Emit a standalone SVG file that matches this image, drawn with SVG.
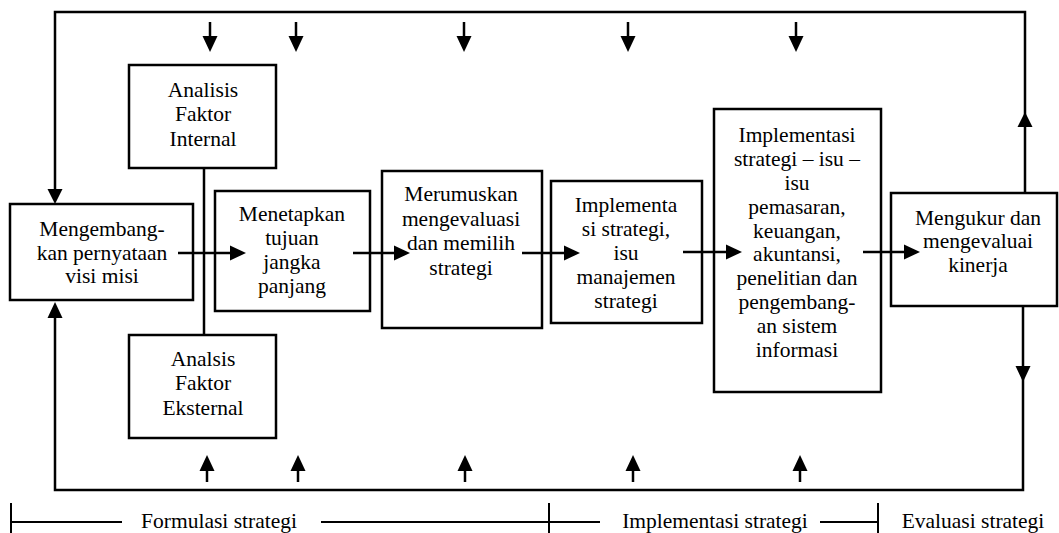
<svg xmlns="http://www.w3.org/2000/svg" width="1059" height="533" viewBox="0 0 1059 533">
<style>
  .box { fill: #fff; stroke: #000; stroke-width: 2.5; }
  .ln { fill: none; stroke: #000; stroke-width: 2.5; }
  .br { fill: none; stroke: #000; stroke-width: 2; }
  .hd { fill: #000; stroke: none; }
  text { font-family: "Liberation Serif", "Times New Roman", serif; font-size: 21.5px; fill: #000; text-anchor: middle; }
</style>
<rect width="1059" height="533" fill="#fff"/>

<g id="n-visi">
  <rect class="box" x="10" y="204" width="183" height="96"/>
  <text x="102" y="236">Mengembang-</text>
  <text x="102" y="260">kan pernyataan</text>
  <text x="102" y="283">visi misi</text>
</g>
<g id="n-internal">
  <rect class="box" x="129" y="65" width="147" height="103"/>
  <text x="203" y="97">Analisis</text>
  <text x="203" y="121">Faktor</text>
  <text x="203" y="146">Internal</text>
</g>
<g id="n-eksternal">
  <rect class="box" x="129" y="335" width="147" height="103"/>
  <text x="203" y="366">Analsis</text>
  <text x="203" y="390">Faktor</text>
  <text x="203" y="415">Eksternal</text>
</g>
<g id="n-tujuan">
  <rect class="box" x="215" y="191" width="155" height="120"/>
  <text x="292" y="221">Menetapkan</text>
  <text x="292" y="245">tujuan</text>
  <text x="292" y="269">jangka</text>
  <text x="292" y="293">panjang</text>
</g>
<g id="n-merumuskan">
  <rect class="box" x="382" y="171" width="160" height="157"/>
  <text x="461" y="201">Merumuskan</text>
  <text x="461" y="226">mengevaluasi</text>
  <text x="461" y="250">dan memilih</text>
  <text x="461" y="275">strategi</text>
</g>
<g id="n-implementa">
  <rect class="box" x="551" y="181" width="151" height="142"/>
  <text x="626" y="212">Implementa</text>
  <text x="626" y="236">si strategi,</text>
  <text x="626" y="260">isu</text>
  <text x="626" y="284">manajemen</text>
  <text x="626" y="308">strategi</text>
</g>
<g id="n-implementasi">
  <rect class="box" x="714" y="109" width="167" height="283"/>
  <text x="797" y="142">Implementasi</text>
  <text x="797" y="166">strategi – isu –</text>
  <text x="797" y="190">isu</text>
  <text x="797" y="214">pemasaran,</text>
  <text x="797" y="238">keuangan,</text>
  <text x="797" y="261">akuntansi,</text>
  <text x="797" y="285">penelitian dan</text>
  <text x="797" y="309">pengembang-</text>
  <text x="797" y="333">an sistem</text>
  <text x="797" y="357">informasi</text>
</g>
<g id="n-mengukur">
  <rect class="box" x="891" y="193" width="166" height="113"/>
  <text x="978" y="225">Mengukur dan</text>
  <text x="978" y="248">mengevaluai</text>
  <text x="978" y="272">kinerja</text>
</g>

<g id="connectors">
  <!-- outer feedback loop -->
  <polyline class="ln" points="55,189 55,12 1025,12 1025,193"/>
  <polygon class="hd" points="47.5,189 62.5,189 55,204"/>
  <polygon class="hd" points="1017.5,127 1032.5,127 1025,112"/>
  <polyline class="ln" points="1023,306 1023,490 55,490 55,318"/>
  <polygon class="hd" points="47.5,318 62.5,318 55,302"/>
  <polygon class="hd" points="1015.5,366 1030.5,366 1023,382"/>
  <!-- link internal-external -->
  <line class="ln" x1="204" y1="168" x2="204" y2="335"/>
  <!-- horizontal flow arrows -->
  <line class="ln" x1="178" y1="253" x2="232" y2="253"/>
  <polygon class="hd" points="230,245.5 230,260.5 246,253"/>
  <line class="ln" x1="353" y1="253" x2="396" y2="253"/>
  <polygon class="hd" points="394,245.5 394,260.5 410,253"/>
  <line class="ln" x1="522" y1="253" x2="566" y2="253"/>
  <polygon class="hd" points="564,245.5 564,260.5 580,253"/>
  <line class="ln" x1="683" y1="252" x2="728" y2="252"/>
  <polygon class="hd" points="726,244.5 726,259.5 742,252"/>
  <line class="ln" x1="863" y1="252" x2="906" y2="252"/>
  <polygon class="hd" points="904,244.5 904,259.5 920,252"/>
  <!-- top down arrows -->
  <line class="ln" x1="210" y1="22" x2="210" y2="38"/><polygon class="hd" points="202.5,36 217.5,36 210,52"/>
  <line class="ln" x1="296" y1="22" x2="296" y2="38"/><polygon class="hd" points="288.5,36 303.5,36 296,52"/>
  <line class="ln" x1="464" y1="22" x2="464" y2="38"/><polygon class="hd" points="456.5,36 471.5,36 464,52"/>
  <line class="ln" x1="628" y1="22" x2="628" y2="38"/><polygon class="hd" points="620.5,36 635.5,36 628,52"/>
  <line class="ln" x1="796" y1="22" x2="796" y2="38"/><polygon class="hd" points="788.5,36 803.5,36 796,52"/>
  <!-- bottom up arrows -->
  <line class="ln" x1="207" y1="482" x2="207" y2="469"/><polygon class="hd" points="199.5,471 214.5,471 207,455"/>
  <line class="ln" x1="298" y1="482" x2="298" y2="469"/><polygon class="hd" points="290.5,471 305.5,471 298,455"/>
  <line class="ln" x1="465" y1="482" x2="465" y2="469"/><polygon class="hd" points="457.5,471 472.5,471 465,455"/>
  <line class="ln" x1="633" y1="482" x2="633" y2="469"/><polygon class="hd" points="625.5,471 640.5,471 633,455"/>
  <line class="ln" x1="800" y1="482" x2="800" y2="469"/><polygon class="hd" points="792.5,471 807.5,471 800,455"/>
</g>

<g id="phases">
  <line class="br" x1="11" y1="503" x2="11" y2="533"/>
  <line class="br" x1="11" y1="522" x2="122" y2="522"/>
  <text x="219" y="528">Formulasi strategi</text>
  <line class="br" x1="321" y1="522" x2="600" y2="522"/>
  <line class="br" x1="549" y1="503" x2="549" y2="533"/>
  <text x="715" y="528">Implementasi strategi</text>
  <line class="br" x1="820" y1="522" x2="878" y2="522"/>
  <line class="br" x1="878" y1="503" x2="878" y2="533"/>
  <text x="973" y="528">Evaluasi strategi</text>
</g>
</svg>
